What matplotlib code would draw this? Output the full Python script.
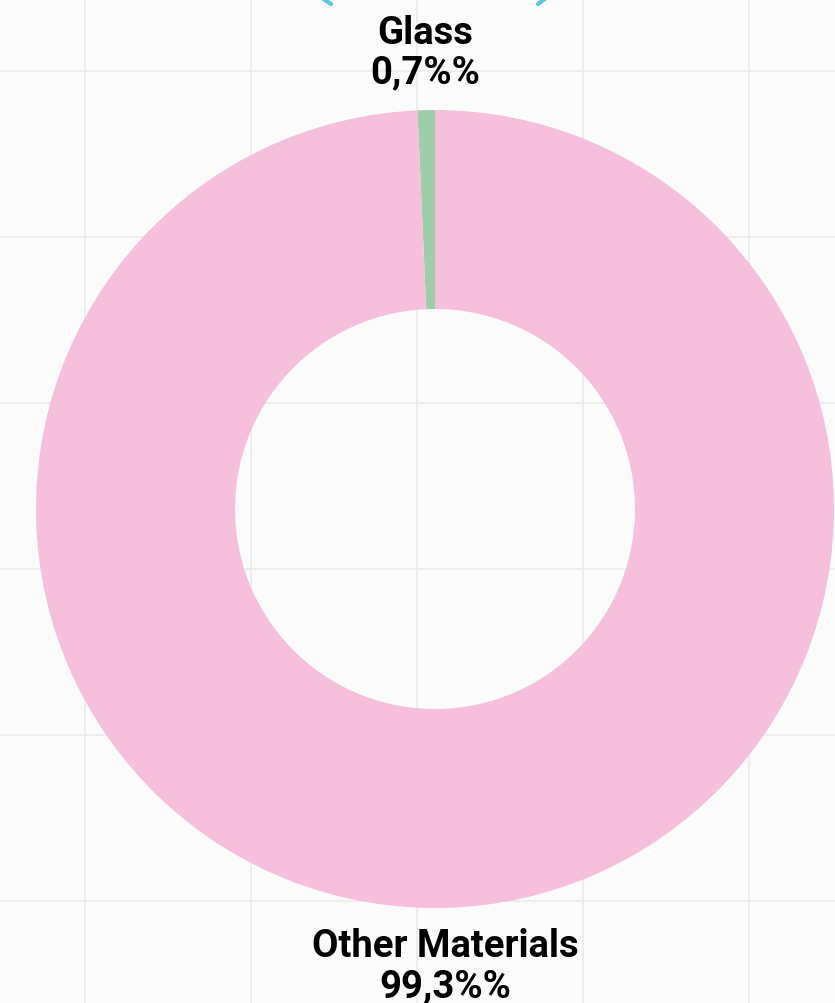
import numpy as np
from matplotlib import pyplot as plt

plt.rcParams['font.family'] = ['Roboto', 'DejaVu Sans']

materials = ['Glass', 'Other Materials']
shares = [0.7, 99.3]
colors = ['#9dcea9', '#f6bfdc']

W, H = 835, 1004
fig = plt.figure(figsize=(W / 100, H / 100), dpi=100)
fig.patch.set_facecolor('#fbfbfb')
ax = fig.add_axes([0, 0, 1, 1])
ax.set_facecolor('#fbfbfb')

# paper grid behind the chart
for gx in range(85, W, 166):
    ax.axvline(gx, color='#ebebeb', lw=1.2, zorder=0)
for gy in range(72, H, 166):
    ax.axhline(H - gy, color='#ebebeb', lw=1.2, zorder=0)

cx, cy, R = 435, H - 510, 399
wedges, _ = ax.pie(shares, colors=colors, startangle=90, counterclock=True,
                   radius=R, center=(cx, cy),
                   wedgeprops=dict(width=R - 200, linewidth=0))
for w in wedges:
    w.set_zorder(2)

for w, name, val in zip(wedges, materials, shares):
    mid = np.deg2rad((w.theta1 + w.theta2) / 2)
    tx = cx + 1.145 * R * np.cos(mid)
    ty = cy + 1.145 * R * np.sin(mid)
    txt = f'{name}\n{val:.1f}%%'.replace('.', ',')
    ax.text(tx, ty, txt, ha='center', va='center', fontsize=27.5,
            fontweight='bold', color='#000000', linespacing=1.1, zorder=3)

# cyan decoration peeking in at the top edge
ax.plot([322, 331], [H + 1, H - 5], color='#5cc6df', lw=3,
        solid_capstyle='round', zorder=3)
ax.plot([546, 538], [H + 1, H - 5], color='#5cc6df', lw=3,
        solid_capstyle='round', zorder=3)

ax.set_xlim(0, W)
ax.set_ylim(0, H)
ax.set_aspect('equal')
ax.axis('off')

fig.savefig('out.png', dpi=100, facecolor=fig.get_facecolor())
